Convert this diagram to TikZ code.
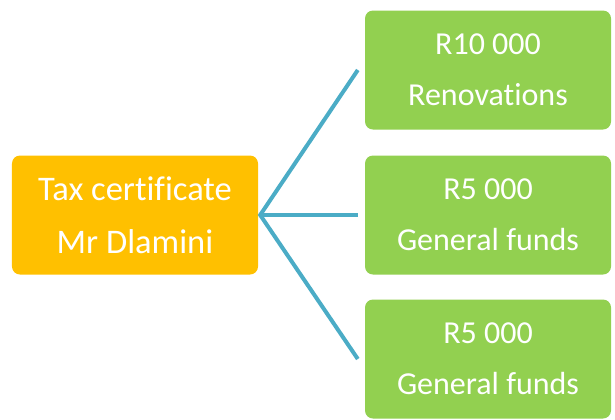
\documentclass[tikz,border=0pt]{standalone}
\usepackage{fontspec}
\setmainfont[Ligatures=NoCommon]{Carlito}
\definecolor{orangebox}{HTML}{FFC000}
\definecolor{greenbox}{HTML}{92D050}
\definecolor{linkblue}{HTML}{4BACC6}
\begin{document}
\begin{tikzpicture}[x=1bp,y=-1bp,
  box/.style={rounded corners=8bp, inner sep=0pt, text=white, align=center,
    font=\fontsize{32bp}{51bp}\selectfont, minimum width=246bp, minimum height=119bp},
  leftbox/.style={box, fill=orangebox, font=\fontsize{34.5bp}{53bp}\selectfont},
  rightbox/.style={box, fill=greenbox},
  link/.style={draw=linkblue, line width=4bp}]
\useasboundingbox (0,0) rectangle (615,419);
\node[leftbox] (src) at (135,215) {Tax certificate\\Mr Dlamini};
\node[rightbox] (r1) at (488,70) {R10 000\\Renovations};
\node[rightbox] (r2) at (488,215) {R5 000\\General funds};
\node[rightbox] (r3) at (488,359) {R5 000\\General funds};
\coordinate (hub) at ([xshift=2bp]src.east);
\coordinate (e1) at ([xshift=-7bp]r1.west);
\coordinate (e2) at ([xshift=-7bp]r2.west);
\coordinate (e3) at ([xshift=-7bp]r3.west);
\draw[link] (e1) -- (hub) -- (e3);
\draw[link] (hub) -- (e2);
\end{tikzpicture}
\end{document}
